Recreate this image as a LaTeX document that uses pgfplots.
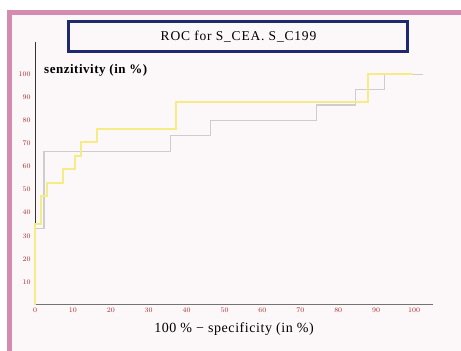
\documentclass[border=0pt]{standalone}
\usepackage{fontspec}
\setmainfont{Liberation Serif}
\newfontfamily\tickfont{Liberation Serif}[LetterSpace=25]
\newfontfamily\titlefont{Liberation Serif}[LetterSpace=6]
\newfontfamily\labfont{Liberation Serif}[LetterSpace=4]
\usepackage{pgfplots}
\pgfplotsset{compat=1.18}
\definecolor{pinkframe}{HTML}{D48BB0}
\definecolor{bgpink}{HTML}{FCF8F9}
\definecolor{navy}{HTML}{1F2A6E}
\definecolor{ticred}{HTML}{A82C2C}
\definecolor{yel}{HTML}{F5EC86}
\definecolor{gr}{HTML}{CDCDCD}
\begin{document}
\begin{tikzpicture}[x=1pt,y=1pt]
\path[use as bounding box] (0,0) rectangle (461,351);
\fill[white] (0,0) rectangle (461,351);
\fill[pinkframe] (7,0) rectangle (461,341);
\fill[bgpink] (12,0) rectangle (461,336);
\draw[navy,line width=3pt] (68,329) rectangle (407,299);
\node[font=\titlefont\fontsize{13.5}{15}\selectfont] at (238.5,314) {ROC for S\_CEA. S\_C199};
\node[font=\labfont\fontsize{13}{15}\selectfont\bfseries,anchor=west,inner sep=0pt] at (44,281) {senzitivity (in \%)};
\node[font=\labfont\fontsize{14}{16}\selectfont,inner sep=0pt] at (234,22) {100 \% − specificity (in \%)};
\begin{axis}[
  at={(35pt,46pt)}, anchor=south west,
  scale only axis, width=398pt, height=263pt,
  xmin=0, xmax=105, ymin=0, ymax=114,
  clip=false,
  axis x line=bottom, axis y line=left,
  x axis line style={-, draw=black!55, line width=1pt},
  y axis line style={-, draw=black!80, line width=0.8pt},
  xtick={0,10,...,100}, ytick={10,20,...,100},
  tick style={draw=none},
  ticklabel style={font=\tickfont\fontsize{7}{8}\selectfont\bfseries, text=ticred},
  xticklabel style={inner sep=0.5pt, yshift=0pt},
  yticklabel style={inner sep=1pt, xshift=-1pt},
]
\addplot[gr, line width=1.2pt, line join=miter] coordinates {
(0,0)(0,33.3)(2.4,33.3)(2.4,66.7)(35.8,66.7)(35.8,73.3)(46.2,73.3)(46.2,80)(74.2,80)(74.2,86.7)(84.5,86.7)(84.5,93.3)(92.3,93.3)(92.3,100)(102.4,100)};
\addplot[yel, line width=2pt, line join=miter] coordinates {
(0,0)(0,35.3)(1.5,35.3)(1.5,47.1)(3.1,47.1)(3.1,52.9)(7.5,52.9)(7.5,58.8)(10.5,58.8)(10.5,64.7)(12.1,64.7)(12.1,70.6)(16.4,70.6)(16.4,76.5)(37.2,76.5)(37.2,88.2)(87.9,88.2)(87.9,100)(99.8,100)};
\end{axis}
\end{tikzpicture}
\end{document}
